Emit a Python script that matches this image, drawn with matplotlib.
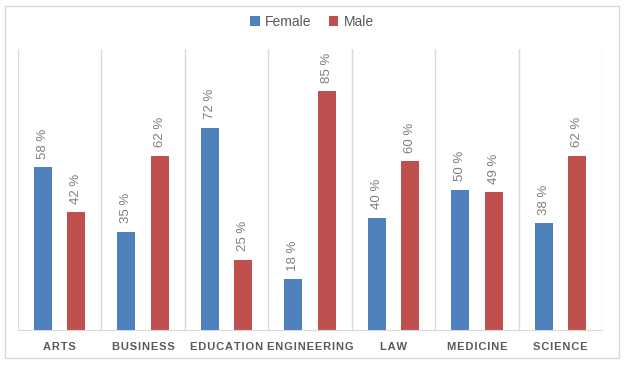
import numpy as np
import matplotlib.pyplot as plt
from matplotlib.patches import Rectangle

categories = ['ARTS', 'BUSINESS', 'EDUCATION', 'ENGINEERING', 'LAW', 'MEDICINE', 'SCIENCE']
female = [58, 35, 72, 18, 40, 50, 38]
male = [42, 62, 25, 85, 60, 49, 62]

plt.rcParams['font.family'] = ['Liberation Sans', 'DejaVu Sans']

fig = plt.figure(figsize=(6.24, 3.65), dpi=100)
fig.patches.append(Rectangle((5/624, 7/365), 614/624, 352/365, transform=fig.transFigure,
                             fill=False, edgecolor='#d9d9d9', linewidth=1))
ax = fig.add_axes([18/624, 35/365, 584/624, 281/365])

x = np.arange(len(categories))
w = 0.215
b1 = ax.bar(x - 0.2, female, w, color='#4F81BD', label='Female')
b2 = ax.bar(x + 0.2, male, w, color='#C0504D', label='Male')

for bars, vals in ((b1, female), (b2, male)):
    for r, v in zip(bars, vals):
        ax.text(r.get_x() + r.get_width() / 2, v + 3, f'{v} %', rotation=90,
                ha='center', va='bottom', fontsize=9.5, color='#7f7f7f')

for b in np.arange(-0.5, len(categories), 1):
    ax.axvline(b, color='#d9d9d9', linewidth=1, zorder=0)

ax.set_xlim(-0.5, len(categories) - 0.5)
ax.set_ylim(0, 100)
ax.set_yticks([])
ax.set_xticks(x)
ax.set_xticklabels(['\u200a'.join(c) for c in categories], fontsize=8, fontweight='bold', color='#595959')
ax.tick_params(axis='x', length=0, pad=9)
for s in ['top', 'right', 'left']:
    ax.spines[s].set_visible(False)
ax.spines['bottom'].set_color('#d9d9d9')

fig.legend(handles=[b1, b2], loc='center', bbox_to_anchor=(0.5, 1 - 22/365), ncol=2,
           frameon=False, fontsize=10, handlelength=0.7, handleheight=0.7,
           columnspacing=1.2, handletextpad=0.4, labelcolor='#595959')

fig.savefig('out.png', dpi=100)
